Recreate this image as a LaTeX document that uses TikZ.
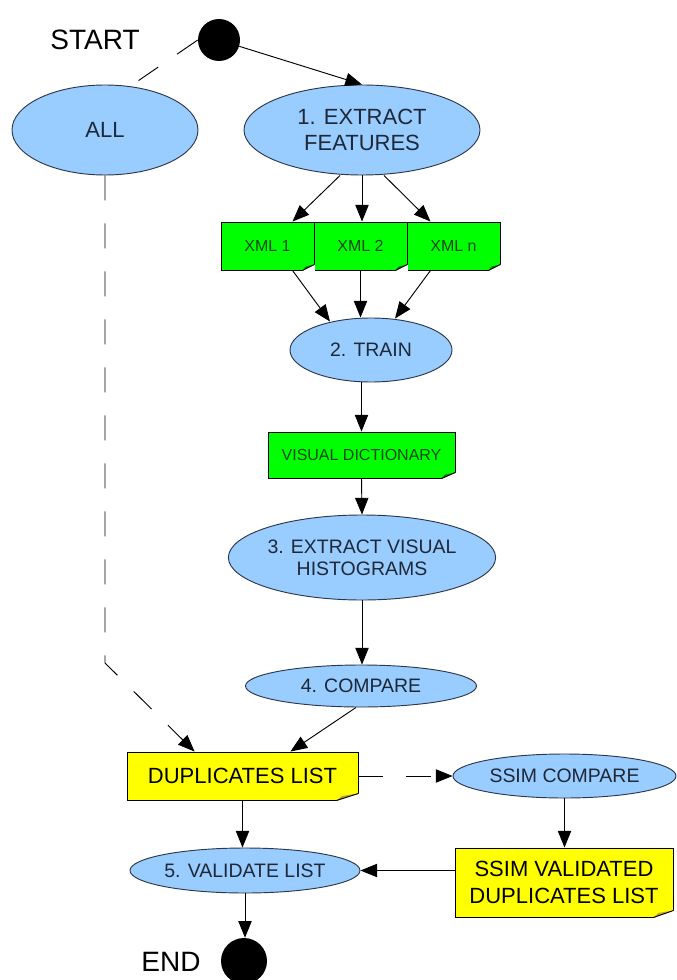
\documentclass[tikz,border=0pt]{standalone}
\usepackage{fontspec}
\setmainfont{Liberation Sans}
\usetikzlibrary{shapes.geometric,arrows.meta,calc}
\definecolor{skyblue}{RGB}{153,204,255}
\definecolor{rimblue}{RGB}{45,55,75}
\definecolor{inkblue}{RGB}{30,40,55}
\definecolor{notegreen}{RGB}{0,255,0}
\definecolor{inkgreen}{RGB}{20,70,20}
\definecolor{foldgreen}{RGB}{20,130,20}
\definecolor{noteyellow}{RGB}{255,255,0}
\definecolor{foldyellow}{RGB}{185,165,55}

\begin{document}
\begin{tikzpicture}[x=0.75pt,y=-0.75pt,
  every node/.style={inner sep=0pt},
  process/.style={ellipse,draw=rimblue,fill=skyblue,line width=0.7pt,text=inkblue,align=center},
  note/.style={rectangle,draw=black,line width=0.7pt,align=center},
  xmlnote/.style={note,fill=notegreen,text=inkgreen,minimum width=69.75pt,minimum height=36pt,font=\fontsize{12}{14}\selectfont},
  listnote/.style={note,fill=noteyellow,font=\fontsize{16.5}{20}\selectfont},
  terminal/.style={circle,fill=black,minimum size=#1},
  flow/.style={-{Triangle[length=12.5pt,width=10pt]},line width=0.7pt},
  gap/.style={dash pattern=on 18.75pt off 17.25pt}]

%% Page frame, same proportions as the reference
    \useasboundingbox (0,0) rectangle (676,980);

%% Start and end points
    \node (starttext) at (95,40) {\fontsize{21}{25}\selectfont START};
    \node[terminal=31.5pt] (start) at (219,40) {};
    \node (endtext) at (171,962) {\fontsize{21}{25}\selectfont END};
    \node[terminal=34.5pt] (end) at (244,961) {};

%% Process steps (ellipses)
    \node[process,minimum width=139.5pt,minimum height=67.5pt,font=\fontsize{16.5}{19}\selectfont] (all) at (105,130) {ALL};
    \node[process,minimum width=177pt,minimum height=67.5pt,font=\fontsize{16.5}{19}\selectfont] (ext) at (362,130) {1. EXTRACT\\FEATURES};
    \node[process,minimum width=121.5pt,minimum height=48pt,font=\fontsize{14.6}{17}\selectfont] (train) at (371,350) {2. TRAIN};
    \node[process,minimum width=177pt,minimum height=63.75pt,font=\fontsize{14.6}{16.5}\selectfont] (hist) at (362,557.5) {3. EXTRACT VISUAL\\HISTOGRAMS};
    \node[process,minimum width=173.25pt,minimum height=31.5pt,font=\fontsize{14.6}{17}\selectfont] (cmp) at (361,686) {4. COMPARE};
    \node[process,minimum width=167.25pt,minimum height=33pt,font=\fontsize{14.6}{17}\selectfont] (ssim) at (564.5,776) {SSIM COMPARE};
    \node[process,minimum width=172.5pt,minimum height=33.75pt,font=\fontsize{14.6}{17}\selectfont] (val) at (245,870.5) {5. VALIDATE LIST};

%% Documents (notes with a folded corner)
    \node[xmlnote] (xmla) at (267.5,246) {XML 1};
    \node[xmlnote] (xmlb) at (360.5,246) {XML 2};
    \node[xmlnote] (xmln) at (453.5,246) {XML n};
    \node[note,fill=notegreen,text=inkgreen,minimum width=140.25pt,minimum height=34.5pt,font=\fontsize{12}{14}\selectfont] (vd) at (361.5,455) {VISUAL DICTIONARY};
    \node[listnote,minimum width=173.25pt,minimum height=36pt] (dup) at (242.5,776) {DUPLICATES LIST};
    \node[listnote,minimum width=163.5pt,minimum height=51.75pt] (sval) at (564,882.5) {SSIM VALIDATED\\DUPLICATES LIST};

    \foreach \n/\w/\h/\c in {xmla/12/6/foldgreen, xmlb/12/6/foldgreen, xmln/12/6/foldgreen, vd/14/6/foldgreen, dup/22/7/foldyellow, sval/20/7/foldyellow} {
        \fill[white] ($(\n.south east)+(0.5,-\h)$) -- ($(\n.south east)+(0.5,0.5)$) -- ($(\n.south east)+(-\w,0.5)$) -- cycle;
        \fill[\c] ($(\n.south east)+(0,-\h)$) -- ($(\n.south east)+(-\w,0)$) -- ($(\n.south east)+(-0.75*\w,-0.65*\h)$) -- cycle;
        \draw[line width=0.7pt] ($(\n.south east)+(0,-\h)$) -- ($(\n.south east)+(-\w,0)$);
    }

%% Connectors
    \coordinate (bend) at (105,663);
    \draw[flow] (start) -- (ext.north);
    \draw[gap,line width=0.7pt,shorten >=7.5pt] (start.west) -- (all.60);
    \draw[gap,flow] (all.south) -- (bend) -- ($(dup.north west)+(68,0)$);

    \draw[flow] ($(ext.south)+(-22,0)$) -- ($(xmla.north)+(25,0)$);
    \draw[flow] (ext.south) -- (ext.south |- xmlb.north);
    \draw[flow] ($(ext.south)+(22,0)$) -- ($(xmln.north)+(-23,0)$);

    \draw[flow] ($(xmla.south)+(25,0)$) -- ($(train.north)+(-41,4)$);
    \draw[flow] (xmlb.south) -- (xmlb.south |- train.north);
    \draw[flow] ($(xmln.south)+(-23,0)$) -- ($(train.north)+(24,1)$);

    \draw[flow] (vd.north |- train.south) -- (vd.north);
    \draw[flow] (vd.south) -- (hist.north);
    \draw[flow] (hist.south) -- (hist.south |- cmp.north);
    \draw[flow] ($(cmp.south)+(-5,0)$) -- ($(dup.north)+(48,0)$);

    \draw[gap,flow] (dup.east) -- (ssim.west);
    \draw[flow] (ssim.south) -- (ssim.south |- sval.north);
    \draw[flow] (sval.west |- val.east) -- (val.east);
    \draw[flow] (dup.south) -- (dup.south |- val.north);
    \draw[flow] (val.south) -- (val.south |- end.north);

\end{tikzpicture}
\end{document}
